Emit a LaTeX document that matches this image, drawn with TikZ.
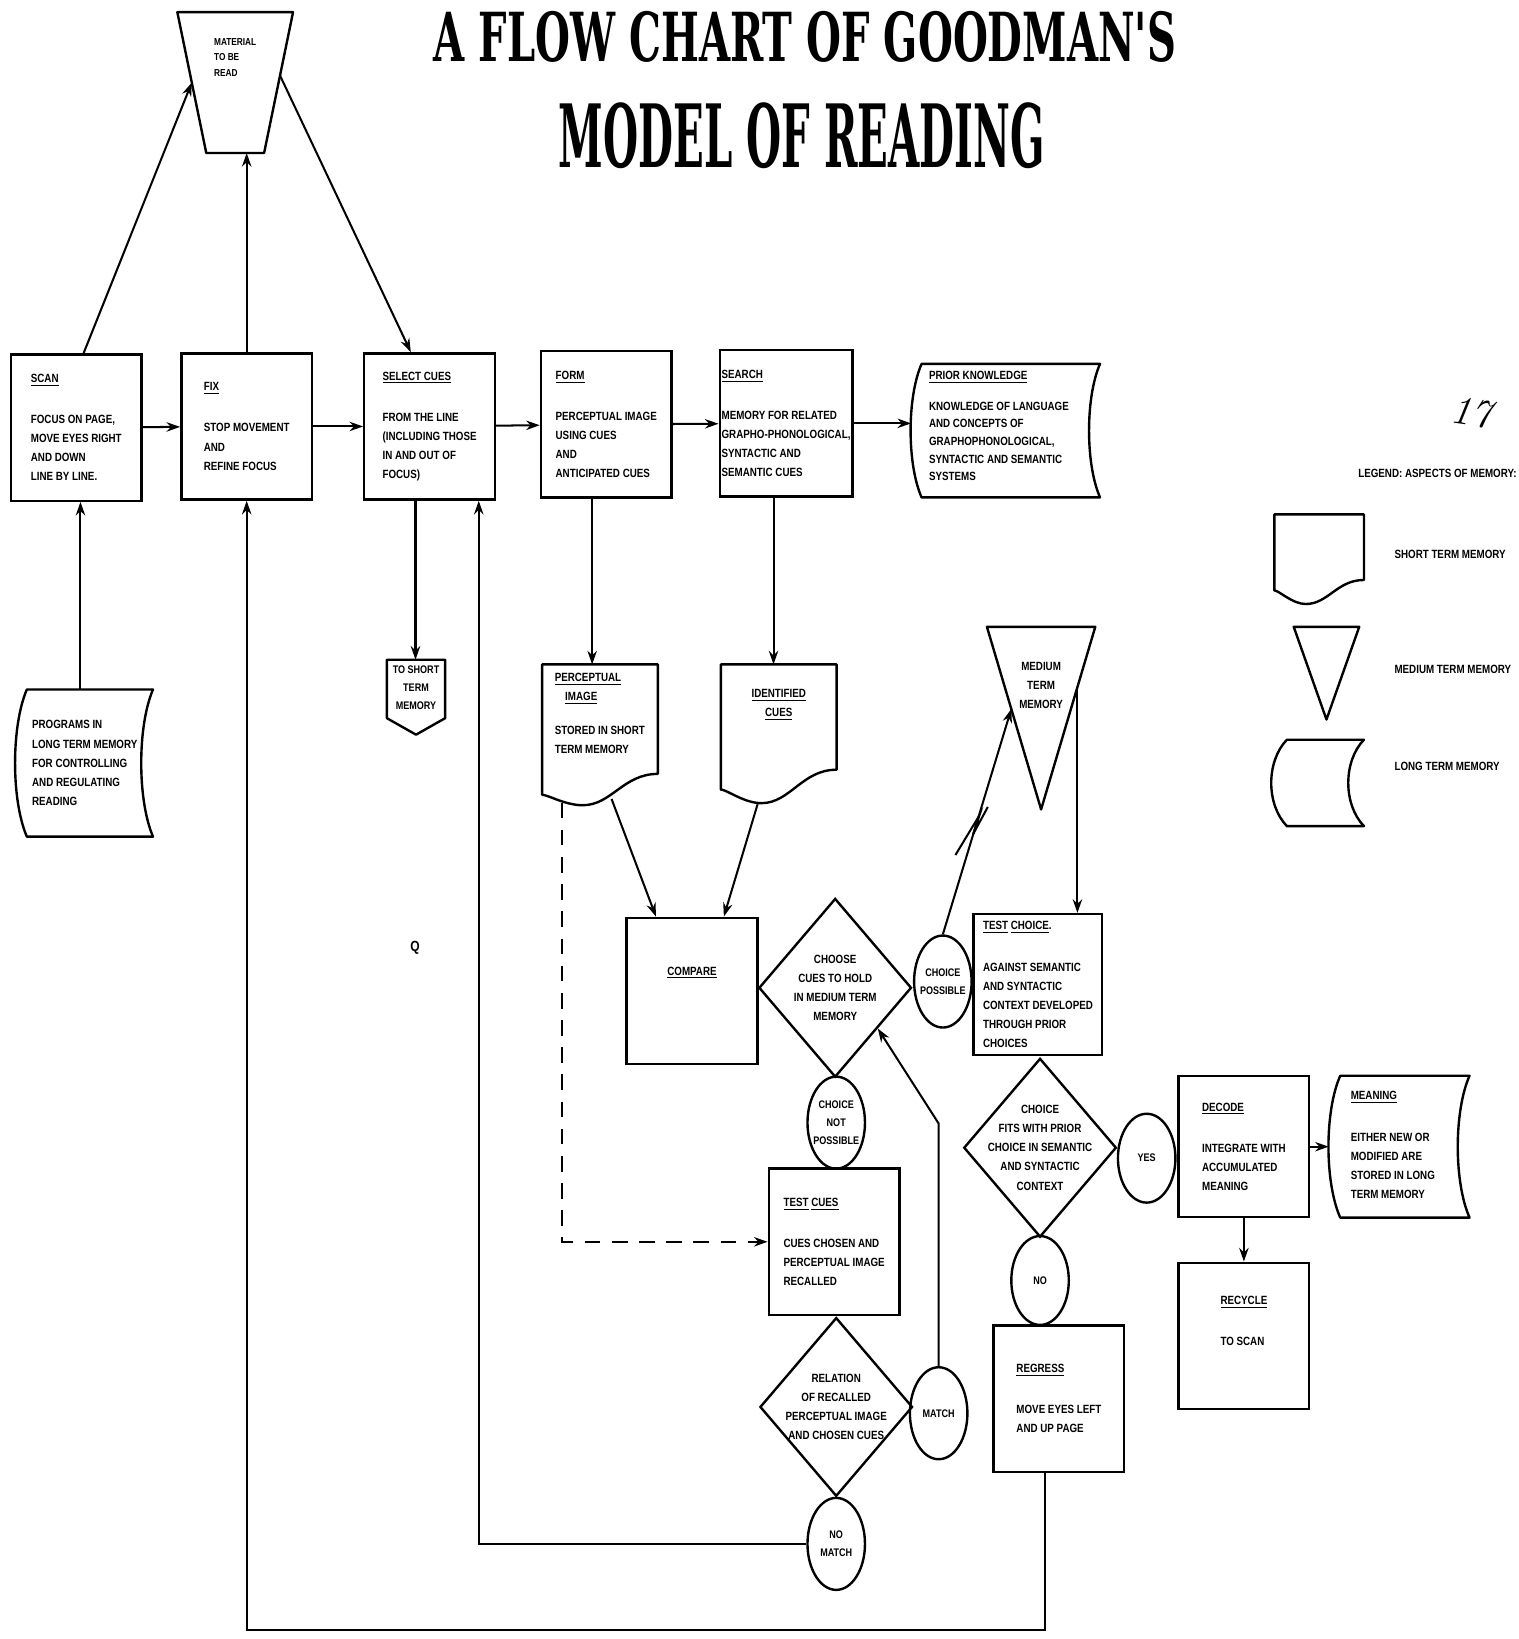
\documentclass[tikz,border=0pt]{standalone}
\usepackage{fontspec}
\usepackage{graphicx}
\usepackage{tikz}
\usetikzlibrary{positioning,arrows.meta,shapes.geometric,calc}

\newfontfamily\chartfont[FakeStretch=0.82]{Liberation Sans}
\newfontfamily\titlefont{DejaVu Serif}

% memory outlines, drawn round an empty node
\newcommand{\stmoutline}[3]{%
  \draw[memline] (#1.north west) -- (#1.north east) -- ($(#1.south east)+(0,#2)$)
    .. controls ($(#1.south east)!0.3!(#1.south west)+(0,#2)$) and ($(#1.south east)!0.4!(#1.south west)$)
    .. ($(#1.south east)!0.65!(#1.south west)$)
    .. controls ($(#1.south east)!0.8!(#1.south west)$) and ($(#1.south east)!0.95!(#1.south west)+(0,#3)$)
    .. ($(#1.south west)+(0,#3)$) -- cycle;}
\newcommand{\ltmoutline}[2]{%
  \draw[memline] (#1.north west) -- (#1.north east)
    .. controls ($(#1.north east)!0.25!(#1.south east)+(-#2,0)$) and ($(#1.north east)!0.75!(#1.south east)+(-#2,0)$) .. (#1.south east)
    -- (#1.south west)
    .. controls ($(#1.south west)!0.25!(#1.north west)+(-#2,0)$) and ($(#1.south west)!0.75!(#1.north west)+(-#2,0)$) .. (#1.north west) -- cycle;}
\newcommand{\mtmoutline}[1]{%
  \draw[memline] (#1.north west) -- (#1.north east) -- (#1.south) -- cycle;}
\newcommand{\pageoutline}[1]{%
  \draw[memline] (#1.north west) -- (#1.north east) -- ($(#1.north east)!0.78!(#1.south east)$)
    -- (#1.south) -- ($(#1.north west)!0.78!(#1.south west)$) -- cycle;}
\newcommand{\trapoutline}[1]{%
  \coordinate (#1-bl) at ($(#1.south west)!0.25!(#1.south east)$);
  \coordinate (#1-br) at ($(#1.south west)!0.75!(#1.south east)$);
  \draw[memline] (#1.north west) -- (#1.north east) -- (#1-br) -- (#1-bl) -- cycle;}

\begin{document}
\begin{tikzpicture}[
  x=0.2mm, y=-0.2mm,
  txt/.style={font=\chartfont\bfseries\fontsize{6.5}{10.4}\selectfont, align=left, inner sep=1pt},
  inlbl/.style={txt, align=center},
  small/.style={font=\chartfont\bfseries\fontsize{6}{9.6}\selectfont},
  box/.style={txt, draw, line width=1.3pt, minimum width=25mm, minimum height=28mm},
  blank/.style={inner sep=0pt},
  memline/.style={line width=1.3pt, line join=round},
  dia/.style={diamond, draw, line width=1.3pt, inner sep=0pt, minimum width=29.2mm, minimum height=34.2mm},
  oval/.style={ellipse, draw, line width=1.3pt, inner sep=0pt, minimum width=11mm, minimum height=17.6mm},
  arr/.style={-{Stealth[length=2.6mm,width=1.8mm]}, line width=1.1pt},
  ttl/.style={anchor=south, inner sep=0pt}
]
\useasboundingbox (0,0) rectangle (1453,1568);

% title
\node[ttl] (title1) at (770,60) {\resizebox{142mm}{9.6mm}{\titlefont\bfseries A FLOW CHART OF GOODMAN'S}};
\node[ttl] (title2) at (767,162) {\resizebox{93mm}{12.4mm}{\titlefont\bfseries MODEL OF READING}};

% material to be read
\node[blank, minimum width=22mm, minimum height=26.8mm] (material) at (225,79) {};
\trapoutline{material}
\node[txt, anchor=north, font=\chartfont\bfseries\fontsize{5.5}{8.5}\selectfont] (material-t) at ([yshift=-4.6mm]material.north) {MATERIAL\\TO BE\\READ};

% main row
\node[box] (scan) at (73,409) {\underline{SCAN}\\[12pt]FOCUS ON PAGE,\\MOVE EYES RIGHT\\AND DOWN\\LINE BY LINE.};
\node[box] (fix) at (236,408) {\underline{FIX}\\[12pt]STOP MOVEMENT\\AND\\REFINE FOCUS};
\node[box] (select) at (411,408) {\underline{SELECT CUES}\\[12pt]FROM THE LINE\\(INCLUDING THOSE\\IN AND OUT OF\\FOCUS)};
\node[box] (form) at (580,406) {\underline{FORM}\\[12pt]PERCEPTUAL IMAGE\\USING CUES\\AND\\ANTICIPATED CUES};
\node[box] (search) at (752,405) {\underline{SEARCH}\\[12pt]MEMORY FOR RELATED\\GRAPHO-PHONOLOGICAL,\\SYNTACTIC AND\\SEMANTIC CUES};
\node[blank, minimum width=34mm, minimum height=25.4mm] (knowledge) at (967,412) {};
\ltmoutline{knowledge}{2.8mm}
\node[txt, anchor=north west, font=\chartfont\bfseries\fontsize{6.5}{9.6}\selectfont] (knowledge-t) at ([xshift=1mm,yshift=-1mm]knowledge.north west) {\underline{PRIOR KNOWLEDGE}\\[7pt]KNOWLEDGE OF LANGUAGE\\AND CONCEPTS OF\\GRAPHOPHONOLOGICAL,\\SYNTACTIC AND SEMANTIC\\SYSTEMS};

% long term programs
\node[blank, minimum width=24mm, minimum height=28mm] (programs) at (86,730) {};
\ltmoutline{programs}{3mm}
\node[txt, anchor=west] (programs-t) at ([xshift=0.6mm]programs.west) {PROGRAMS IN\\LONG TERM MEMORY\\FOR CONTROLLING\\AND REGULATING\\READING};

% short term stores
\node[blank, minimum width=11mm, minimum height=14.2mm] (tostm) at (398,667) {};
\pageoutline{tostm}
\node[inlbl, small, anchor=north] (tostm-t) at ([yshift=-0.8mm]tostm.north) {TO SHORT\\TERM\\MEMORY};
\node[blank, minimum width=22mm, minimum height=26.8mm] (percimg) at (574,703) {};
\stmoutline{percimg}{6mm}{2mm}
\node[txt, anchor=north west] (percimg-t) at ([xshift=2mm,yshift=-1.2mm]percimg.north west) {\underline{PERCEPTUAL}\\\hspace*{2mm}\underline{IMAGE}\\[8pt]STORED IN SHORT\\TERM MEMORY};
\node[blank, minimum width=22mm, minimum height=26.4mm] (idcues) at (745,702) {};
\stmoutline{idcues}{6.4mm}{2.6mm}
\node[inlbl, anchor=north] (idcues-t) at ([yshift=-4.4mm]idcues.north) {\underline{IDENTIFIED}\\\underline{CUES}};

% compare / choose / test
\node[box] (compare) at (662,948) {\underline{COMPARE}\\[4mm]\mbox{}};
\node[dia, label={[inlbl]center:{CHOOSE\\CUES TO HOLD\\IN MEDIUM TERM\\MEMORY}}] (choose) at (799,945) {};
\node[oval, label={[inlbl, small]center:{CHOICE\\POSSIBLE}}] (cposs) at (902,939) {};
\node[oval, label={[inlbl, small]center:{CHOICE\\NOT\\POSSIBLE}}] (cnot) at (800,1074) {};
\node[box] (testcues) at (798,1188) {\underline{TEST} \underline{CUES}\\[12pt]CUES CHOSEN AND\\PERCEPTUAL IMAGE\\RECALLED};
\node[dia, label={[inlbl]center:{RELATION\\OF RECALLED\\PERCEPTUAL IMAGE\\AND CHOSEN CUES}}] (relation) at (800,1346) {};
\node[oval, label={[inlbl, small]center:MATCH}] (match) at (898,1352) {};
\node[oval, label={[inlbl, small]center:{NO\\MATCH}}] (nomatch) at (800,1477) {};

% medium term memory and test choice
\node[blank, minimum width=20.6mm, minimum height=34.8mm] (mtm) at (996,687) {};
\mtmoutline{mtm}
\node[inlbl, anchor=north] (mtm-t) at ([yshift=-6.4mm]mtm.north) {MEDIUM\\TERM\\MEMORY};
\node[box, minimum width=24.6mm, minimum height=27mm] (tchoice) at (993,942) {\underline{TEST} \underline{CHOICE}.\\[12pt]AGAINST SEMANTIC\\AND SYNTACTIC\\CONTEXT DEVELOPED\\THROUGH PRIOR\\CHOICES};
\node[dia, label={[inlbl]center:{CHOICE\\FITS WITH PRIOR\\CHOICE IN SEMANTIC\\AND SYNTACTIC\\CONTEXT}}] (fits) at (995,1098) {};
\node[oval, minimum height=17mm, label={[inlbl, small]center:YES}] (yes) at (1097,1108) {};
\node[oval, minimum height=17mm, label={[inlbl, small]center:NO}] (no) at (995,1225) {};
\node[box, minimum height=27mm] (decode) at (1190,1097) {\underline{DECODE}\\[12pt]INTEGRATE WITH\\ACCUMULATED\\MEANING};
\node[box] (recycle) at (1190,1278) {\underline{RECYCLE}\\[12pt]TO SCAN\\[2mm]\mbox{}};
\node[box] (regress) at (1013,1338) {\underline{REGRESS}\\[12pt]MOVE EYES LEFT\\AND UP PAGE};
\node[blank, minimum width=24.6mm, minimum height=27mm] (meaning) at (1344,1097) {};
\ltmoutline{meaning}{3mm}
\node[txt, anchor=north west] (meaning-t) at ([xshift=1.6mm,yshift=-2.6mm]meaning.north west) {\underline{MEANING}\\[12pt]EITHER NEW OR\\MODIFIED ARE\\STORED IN LONG\\TERM MEMORY};

% legend
\node[font=\fontsize{22}{22}\selectfont\itshape, rotate=-8] (pagenum) at (1408,395) {17};
\node[txt, anchor=east] (legend) at (1453,453) {LEGEND: ASPECTS OF MEMORY:};
\node[blank, minimum width=17mm, minimum height=17mm] (lg-stm) at (1262,535) {};
\stmoutline{lg-stm}{4.6mm}{2.6mm}
\node[txt, anchor=west] (lg-stm-t) at (1332,530) {SHORT TERM MEMORY};
\node[blank, minimum width=12.4mm, minimum height=17.6mm] (lg-mtm) at (1269,644) {};
\mtmoutline{lg-mtm}
\node[txt, anchor=west] (lg-mtm-t) at (1332,640) {MEDIUM TERM MEMORY};
\node[blank, minimum width=14.6mm, minimum height=16.4mm] (lg-ltm) at (1268,749) {};
\ltmoutline{lg-ltm}{4mm}
\node[txt, anchor=west] (lg-ltm-t) at (1332,733) {LONG TERM MEMORY};
\node[txt, font=\chartfont\bfseries\fontsize{8}{8}\selectfont] (stray) at (397,907) {Q};

% connectors
\draw[arr] (scan) -- (fix);
\draw[arr] (fix) -- (select);
\draw[arr] (select) -- (form);
\draw[arr] (form) -- (search);
\draw[arr] (search) -- ([xshift=-2mm]knowledge.west |- search);
\draw[arr] ([xshift=1.4mm]scan.north) -- ($(material.north west)!0.5!(material-bl)$);
\draw[arr] (fix.north) -- (fix.north |- material.south);
\draw[arr] ($(material.north east)!0.45!(material-br)$) -- ([xshift=-3.6mm]select.north);
\draw[arr] ([xshift=-1.8mm]programs.north) -- ([xshift=-1.8mm]programs.north |- scan.south);
\draw[arr] ([xshift=-2.7mm]select.south) -- ([xshift=-2.7mm]select.south |- tostm.north);
\draw[arr] ([xshift=-2.7mm]form.south) -- ([xshift=-2.7mm]form.south |- percimg.north);
\draw[arr] ([xshift=-2.4mm]search.south) -- ([xshift=-2.4mm]search.south |- idcues.north);
\draw[arr] ($(percimg.south west)!0.6!(percimg.south east)+(0,1.2mm)$) -- ([xshift=-6.9mm]compare.north);
\draw[arr] ($(idcues.south west)!0.32!(idcues.south east)$) -- ([xshift=6.1mm]compare.north);
\draw[arr, dash pattern=on 3mm off 2.2mm] ($(percimg.south west)!0.17!(percimg.south east)+(0,0.5mm)$) |- (testcues.west);
\draw[arr] (cposs.north) -- ($(mtm.north west)!0.45!(mtm.south)$);
\draw[line width=1.1pt] (914,818) -- (937,780) -- (931,798) -- (945,772);
\coordinate (mtm-out) at ($(mtm.north east)!0.33!(mtm.south)$);
\draw[arr] (mtm-out) -- (mtm-out |- tchoice.north);
\draw[arr] (match.north) -- ++(0,-232) -- ($(choose.east)!0.45!(choose.south)$);
\draw[arr] (nomatch.west) -| ([xshift=9.4mm]select.south);
\draw[arr] ([xshift=-2.7mm]regress.south) -- ++(0,150) -| (fix.south);
\draw[arr] (decode.east) -- ([xshift=-2.2mm]meaning.west);
\draw[arr] (decode) -- (recycle);
\end{tikzpicture}
\end{document}
